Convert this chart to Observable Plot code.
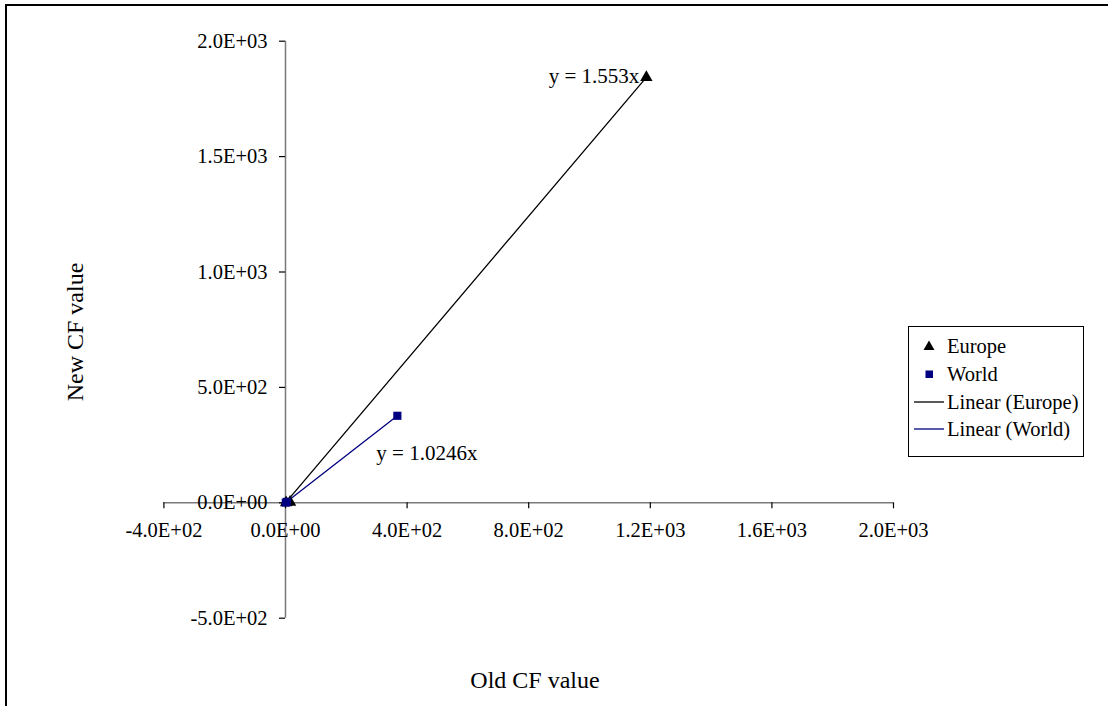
<!DOCTYPE html>
<html>
<head>
<meta charset="utf-8">
<script src="https://cdn.jsdelivr.net/npm/d3@7"></script>
<script src="https://cdn.jsdelivr.net/npm/@observablehq/plot@0.6"></script>
<style>
  html, body { margin: 0; padding: 0; background: #fff; }
  #wrap { position: relative; width: 1108px; height: 706px; overflow: hidden; font-family: "Liberation Serif", "Times New Roman", serif; color: #000; }
  #wrap svg { position: absolute; left: 0; top: 0; display: block; }
  .frame { position: absolute; left: 5px; top: 4px; width: 1200px; height: 800px; border-top: 2px solid #000; border-left: 2px solid #000; box-sizing: border-box; pointer-events: none; }
  .ytitle { position: absolute; left: 75px; top: 332px; transform: translate(-50%, -50%) rotate(-90deg); font-size: 24px; white-space: nowrap; }
  .xtitle { position: absolute; left: 535px; top: 680px; transform: translate(-50%, -50%); font-size: 24px; white-space: nowrap; }
  .legend { position: absolute; left: 908px; top: 326px; width: 176px; height: 131px; border: 1px solid #000; box-sizing: border-box; background: #fff; font-size: 20.5px; }
  .row { position: absolute; left: 0; height: 28px; line-height: 28px; width: 100%; }
  .row .lab { position: absolute; left: 38px; top: 0; white-space: nowrap; }
  .row svg { position: absolute; left: 0; top: 0; }
</style>
</head>
<body>
<div id="wrap"></div>
<script>
// ---- data ----
const seriesNames = ["Europe", "World"];
const europeOld = [2, 15, 1187];
const europeNew = [1, 3, 1843];
const worldOld = [1, 5, 368];
const worldNew = [1, 4, 377];
const slopes = {Europe: 1.553, World: 1.0246};
const eqLabels = {Europe: "y = 1.553x", World: "y = 1.0246x"};
const xTicks = [-400, 0, 400, 800, 1200, 1600, 2000];
const yTicks = [-500, 0, 500, 1000, 1500, 2000];
const xTitle = "Old CF value";
const yTitle = "New CF value";
const legendLabels = ["Europe", "World", "Linear (Europe)", "Linear (World)"];

const colors = {Europe: "#000000", World: "#000080"};

const europe = europeOld.map((x, i) => ({series: "Europe", x, y: europeNew[i]}));
const world = worldOld.map((x, i) => ({series: "World", x, y: worldNew[i]}));

function trend(data, slope) {
  const xs = data.map(d => d.x);
  const lo = d3.min(xs), hi = d3.max(xs);
  return [lo, hi].map(x => ({x, y: slope * x}));
}
const europeTrend = trend(europe, slopes.Europe);
const worldTrend = trend(world, slopes.World);

function fmtE(v) {
  if (v === 0) return "0.0E+00";
  const sign = v < 0 ? "-" : "";
  const a = Math.abs(v);
  let e = Math.floor(Math.log10(a));
  let m = a / Math.pow(10, e);
  if (+m.toFixed(1) >= 10) { m /= 10; e += 1; }
  const es = (e < 0 ? "-" : "+") + String(Math.abs(e)).padStart(2, "0");
  return sign + m.toFixed(1) + "E" + es;
}

const xDomain = d3.extent(xTicks);
const yDomain = d3.extent(yTicks);
const axisColor = "#7a7a7a";
const topPoint = d => d.x === d3.max(d.series === "Europe" ? europeOld : worldOld);

const plot = Plot.plot({
  width: 1108,
  height: 706,
  marginLeft: 163.4,
  marginRight: 215,
  marginTop: 40.7,
  marginBottom: 88.3,
  x: {domain: xDomain, axis: null},
  y: {domain: yDomain, axis: null},
  style: {fontFamily: "'Liberation Serif', 'Times New Roman', serif", fontSize: "21px", background: "transparent", overflow: "visible", color: "#000"},
  marks: [
    // axis lines crossing at origin
    Plot.ruleY([0], {x1: xDomain[0], x2: xDomain[1], stroke: axisColor, strokeWidth: 1.5}),
    Plot.ruleX([0], {y1: yDomain[0], y2: yDomain[1], stroke: axisColor, strokeWidth: 1.5}),
    // tick marks
    Plot.ruleX(xTicks, {x: d => d, y1: 0, y2: 0, insetBottom: -6, stroke: "#000", strokeWidth: 1.2}),
    Plot.ruleY(yTicks, {y: d => d, x1: 0, x2: 0, insetLeft: -6, stroke: "#000", strokeWidth: 1.2}),
    // tick labels
    Plot.text(xTicks, {x: d => d, y: 0, text: d => fmtE(d), dy: 28, textAnchor: "middle", fontSize: 20.5, fill: "#000"}),
    Plot.text(yTicks, {x: 0, y: d => d, text: d => fmtE(d), dx: -18, textAnchor: "end", fontSize: 20.5, fill: "#000"}),
    // trend lines
    Plot.line(europeTrend, {x: "x", y: "y", stroke: colors.Europe, strokeWidth: 1.3}),
    Plot.line(worldTrend, {x: "x", y: "y", stroke: colors.World, strokeWidth: 1.3}),
    // points
    Plot.dot(europe, {x: "x", y: "y", symbol: "triangle", r: 4.6, fill: colors.Europe, stroke: "none"}),
    Plot.dot(world, {x: "x", y: "y", symbol: "square", r: 4.6, fill: colors.World, stroke: "none"}),
    // equation labels
    Plot.text(europe.filter(topPoint), {x: "x", y: "y", text: () => eqLabels.Europe, dx: -7, dy: -1, textAnchor: "end", fontSize: 21, fill: "#000"}),
    Plot.text(world.filter(topPoint), {x: "x", y: "y", text: () => eqLabels.World, dx: -21, dy: 37, textAnchor: "start", fontSize: 21, fill: "#000"})
  ]
});

const wrap = document.getElementById("wrap");
wrap.appendChild(plot);

const frame = document.createElement("div");
frame.className = "frame";
wrap.appendChild(frame);

const yt = document.createElement("div");
yt.className = "ytitle"; yt.textContent = yTitle; wrap.appendChild(yt);
const xt = document.createElement("div");
xt.className = "xtitle"; xt.textContent = xTitle; wrap.appendChild(xt);

// legend
const legend = document.createElement("div");
legend.className = "legend";
const rowTops = [5, 33, 61, 88];
legendLabels.forEach((lab, i) => {
  const row = document.createElement("div");
  row.className = "row";
  row.style.top = rowTops[i] + "px";
  const ns = "http://www.w3.org/2000/svg";
  const s = document.createElementNS(ns, "svg");
  s.setAttribute("width", 40); s.setAttribute("height", 28);
  if (i === 0) {
    const p = document.createElementNS(ns, "path");
    p.setAttribute("d", "M20,8.5 L25.5,18 L14.5,18 Z");
    p.setAttribute("fill", colors.Europe);
    s.appendChild(p);
  } else if (i === 1) {
    const r = document.createElementNS(ns, "rect");
    r.setAttribute("x", 16.5); r.setAttribute("y", 10.5); r.setAttribute("width", 7.5); r.setAttribute("height", 7.5);
    r.setAttribute("fill", colors.World);
    s.appendChild(r);
  } else {
    const l = document.createElementNS(ns, "line");
    l.setAttribute("x1", 5); l.setAttribute("x2", 35); l.setAttribute("y1", 14); l.setAttribute("y2", 14);
    l.setAttribute("stroke", i === 2 ? colors.Europe : colors.World);
    l.setAttribute("stroke-width", 1.3);
    s.appendChild(l);
  }
  row.appendChild(s);
  const t = document.createElement("span");
  t.className = "lab"; t.textContent = lab;
  row.appendChild(t);
  legend.appendChild(row);
});
wrap.appendChild(legend);
</script>
</body>
</html>
